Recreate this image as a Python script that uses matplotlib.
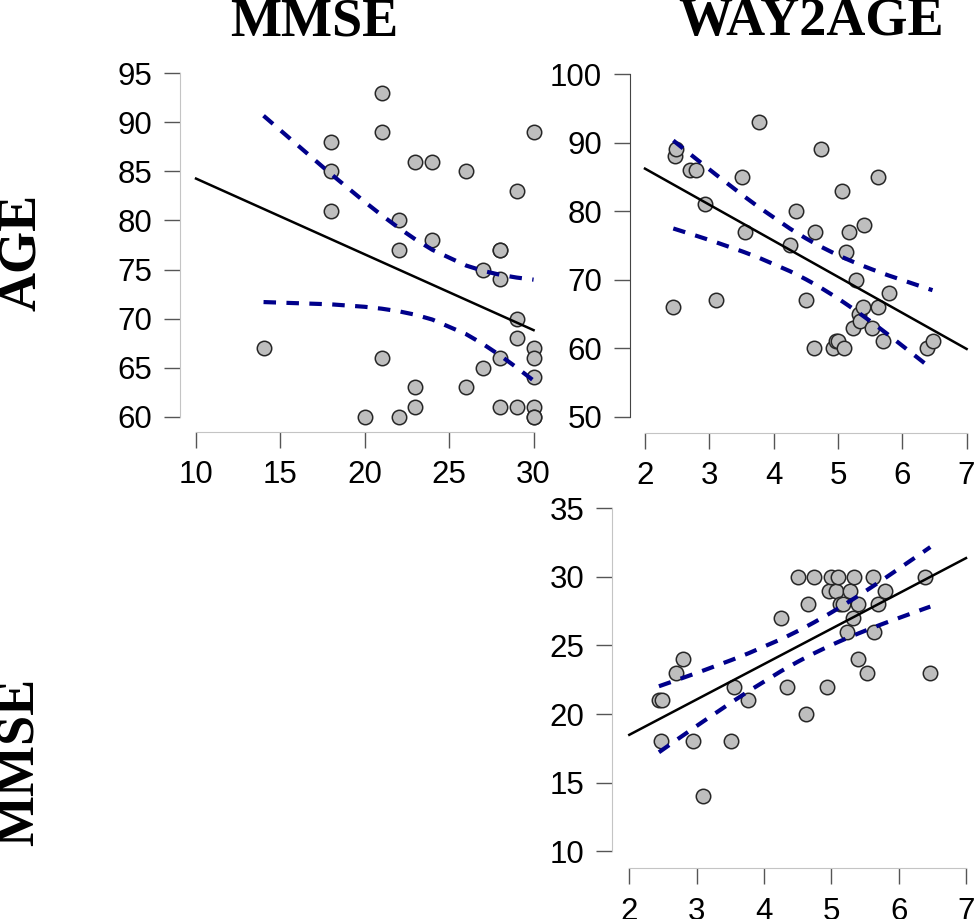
import numpy as np
import matplotlib
matplotlib.use("Agg")
import matplotlib.pyplot as plt

# one entry per subject (36)
way2age = [2.44, 2.47, 2.48, 2.70, 2.79, 2.94, 3.10, 3.51, 3.55, 3.77,
           4.25, 4.34, 4.50, 4.62, 4.65, 4.74, 4.93, 4.97, 5.00, 5.07,
           5.10, 5.13, 5.17, 5.23, 5.28, 5.32, 5.34, 5.39, 5.40, 5.53,
           5.62, 5.63, 5.70, 5.79, 6.39, 6.47]
mmse = [21, 18, 21, 23, 24, 18, 14, 18, 22, 21,
        27, 22, 30, 20, 28, 30, 22, 29, 30, 29,
        30, 28, 28, 26, 29, 27, 30, 28, 24, 23,
        30, 26, 28, 29, 30, 23]
age = [66, 88, 89, 86, 86, 81, 67, 85, 77, 93,
       75, 80, 67, 60, 77, 89, 60, 61, 61, 83,
       60, 74, 77, 63, 70, 65, 64, 66, 78, 63,
       66, 85, 61, 68, 60, 61]

mmse_ticks = [10, 15, 20, 25, 30]
age_ticks_left = [60, 65, 70, 75, 80, 85, 90, 95]
way_ticks = [2, 3, 4, 5, 6, 7]
age_ticks_right = [50, 60, 70, 80, 90, 100]
mmse_ticks_bottom = [10, 15, 20, 25, 30, 35]

T_CRIT = 2.032  # t(0.975, df=34)

W, H = 975, 919
plt.rcParams["lines.scale_dashes"] = False
plt.rcParams["font.family"] = ["Liberation Sans", "DejaVu Sans"]

fig = plt.figure(figsize=(W / 100, H / 100), dpi=100)


def fit_band(x, y):
    x = np.asarray(x, float)
    y = np.asarray(y, float)
    n = len(x)
    slope, icpt = np.polyfit(x, y, 1)
    resid = y - (icpt + slope * x)
    s = np.sqrt(np.sum(resid ** 2) / (n - 2))
    xs = np.unique(x)
    sxx = np.sum((x - x.mean()) ** 2)
    se = s * np.sqrt(1 / n + (xs - x.mean()) ** 2 / sxx)
    fit = icpt + slope * xs
    return slope, icpt, xs, fit - T_CRIT * se, fit + T_CRIT * se


def panel(box, xlim, ylim, xticks, yticks, x, y, yspine="#c4c4c4"):
    # box in pixels: left, top, right, bottom
    l, t, r, b = box
    ax = fig.add_axes([l / W, 1 - b / H, (r - l) / W, (b - t) / H])
    ax.patch.set_alpha(0)
    ax.scatter(x, y, s=108, c="#bebebe", edgecolors="#262626",
               linewidths=1.1, zorder=2, clip_on=False)
    slope, icpt, xs, lo, hi = fit_band(x, y)
    xl = np.array([xticks[0], xticks[-1]])
    ax.plot(xl, icpt + slope * xl, color="black", lw=1.8, zorder=3)
    for band in (lo, hi):
        ax.plot(xs, band, color="#00008b", lw=3.0, dashes=(9, 7.5), zorder=3)

    ax.set_xlim(xlim)
    ax.set_ylim(ylim)
    ax.set_xticks(xticks)
    ax.set_yticks(yticks)
    for side in ("top", "right"):
        ax.spines[side].set_visible(False)
    ax.spines["bottom"].set_bounds(xticks[0], xticks[-1])
    ax.spines["left"].set_bounds(yticks[0], yticks[-1])
    ax.spines["bottom"].set_color("#c4c4c4")
    ax.spines["left"].set_color(yspine)
    ax.tick_params(length=11.5, width=1.0, color="#555555", labelsize=22.5,
                   labelcolor="black")
    ax.tick_params(axis="y", pad=8.5)
    ax.tick_params(axis="x", pad=9)
    return ax


panel((180, 58, 549.6, 432), (9.05, 30.95), (58.44, 96.56),
      mmse_ticks, age_ticks_left, mmse, age)
panel((630, 57.7, 981.6, 433), (1.767, 7.233), (47.62, 102.38),
      way_ticks, age_ticks_right, way2age, age, yspine="#444444")
panel((612, 491.2, 983.3, 868.3), (1.743, 7.257), (8.74, 36.26),
      way_ticks, mmse_ticks_bottom, way2age, mmse)

title_kw = dict(family=["Liberation Serif", "DejaVu Serif"], weight="bold",
                fontsize=39, ha="center", va="center")
fig.text(314 / W, 1 - 22 / H, "MMSE", **title_kw)
fig.text(811 / W, 1 - 22 / H, "WAY2AGE", **title_kw)
fig.text(22 / W, 1 - 252 / H, "AGE", rotation=90, **title_kw)
fig.text(20 / W, 1 - 762 / H, "MMSE", rotation=90, **title_kw)

fig.savefig("out.png", dpi=100)
